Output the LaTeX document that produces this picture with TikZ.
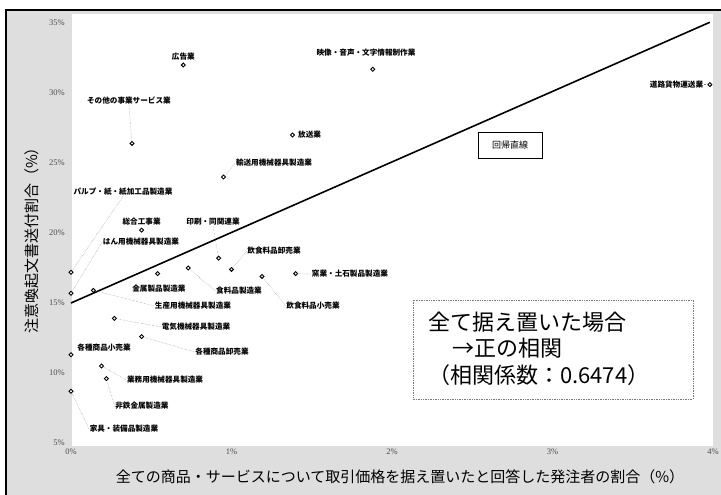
\documentclass[tikz,border=0pt]{standalone}
\usepackage{fontspec}
\setmainfont{Noto Sans CJK JP}
\newfontfamily\tickfont{Liberation Serif}
\usetikzlibrary{positioning}

\begin{document}
\begin{tikzpicture}[
    x=1pt,
    y=1pt,
    mydot/.style={
        circle,
        fill=white,
        draw,
        outer sep=0pt,
        inner sep=1.4pt,
        line width=0.9pt
      },
    lab/.style={font=\fontsize{7.6}{8}\selectfont\bfseries, inner sep=0.5pt},
    leader/.style={gray, densely dotted, line width=0.4pt},
    tick/.style={font=\tickfont\fontsize{8.5}{9}\selectfont, text=black!70, inner sep=0pt}]
  % Define colors
  \definecolor{backcolor}{RGB}{222,222,222}
  \definecolor{boxcolor}{RGB}{120,120,120}

  % Draw background
  \useasboundingbox (0,0) rectangle (721,495);
  \clip (0,0) rectangle (721,495);
  \fill[white] (0,0) rectangle (721,495);
  \draw[fill=backcolor, line width=1.2pt] (6,485) rectangle (740,-20);
  \fill[white] (72,481) rectangle (713,49);

  % Axis titles
  \node[font=\fontsize{15}{16}\selectfont] (xtitle) at (400,18)
    {全ての商品・サービスについて取引価格を据え置いたと回答した発注者の割合（\%）};
  \node[font=\fontsize{15}{16}\selectfont, rotate=90] (ytitle) at (32,258)
    {注意喚起文書送付割合（\%）};

  \begin{scope}[x=160.5pt, y=14pt, shift={(71pt,-18pt)}]
    % Label axes
    \draw (0,35) node[tick, left=6pt] (y35) {35\%};
    \draw (0,30) node[tick, left=6pt] (y30) {30\%};
    \draw (0,25) node[tick, left=6pt] (y25) {25\%};
    \draw (0,20) node[tick, left=6pt] (y20) {20\%};
    \draw (0,15) node[tick, left=6pt] (y15) {15\%};
    \draw (0,10) node[tick, left=6pt] (y10) {10\%};
    \draw (0,5) node[tick, left=6pt] (y5) {5\%};
    \draw (0,5) node[tick, below=6pt] (x0) {0\%};
    \draw (1,5) node[tick, below=6pt] (x1) {1\%};
    \draw (2,5) node[tick, below=6pt] (x2) {2\%};
    \draw (3,5) node[tick, below=6pt] (x3) {3\%};
    \draw (4,5) node[tick, below=6pt] (x4) {4\%};

    % Draw regression line
    \coordinate (r0) at (0,15);
    \coordinate (r1) at (3.98,35.05);
    \draw[line width=1.6pt] (r0) -- (r1);

    % Draw points
    \draw (0.70,32.0) node[mydot] (kokoku) {};
    \draw (1.88,31.7) node[mydot] (eizo) {};
    \draw (0.38,26.4) node[mydot] (sonota) {};
    \draw (1.38,27.0) node[mydot] (hoso) {};
    \draw (0.95,24.0) node[mydot] (yuso) {};
    \draw (0,17.2) node[mydot] (pulp) {};
    \draw (0,15.7) node[mydot] (hanyo) {};
    \draw (0.44,20.2) node[mydot] (sogo) {};
    \draw (0.92,18.2) node[mydot] (insatsu) {};
    \draw (1.00,17.4) node[mydot] (oroshi) {};
    \draw (1.40,17.1) node[mydot] (yogyo) {};
    \draw (0.54,17.1) node[mydot] (kinzoku) {};
    \draw (0.73,17.5) node[mydot] (shokuhin) {};
    \draw (0.14,15.9) node[mydot] (seisan) {};
    \draw (1.19,16.9) node[mydot] (kouri) {};
    \draw (0.27,13.9) node[mydot] (denki) {};
    \draw (0.44,12.6) node[mydot] (kakuoroshi) {};
    \draw (0,11.3) node[mydot] (kakukouri) {};
    \draw (0.19,10.5) node[mydot] (gyomu) {};
    \draw (0.22,9.6) node[mydot] (hitetsu) {};
    \draw (0,8.7) node[mydot] (kagu) {};
    \draw (3.98,30.6) node[mydot] (doro) {};

    % Label points
    \node[lab, above=2pt of kokoku] (kokoku-l) {広告業};
    \node[lab] (eizo-l) at (1.838,32.86) {映像・音声・文字情報制作業};
    \node[lab] (sonota-l) at (0.361,29.43) {その他の事業サービス業};
    \node[lab, right=3pt of hoso] (hoso-l) {放送業};
    \node[lab] (yuso-l) at (1.265,25.0) {輸送用機械器具製造業};
    \node[lab] (pulp-l) at (0.324,22.93) {パルプ・紙・紙加工品製造業};
    \node[lab] (hanyo-l) at (0.436,19.36) {はん用機械器具製造業};
    \node[lab, above=2pt of sogo] (sogo-l) {総合工事業};
    \node[lab] (insatsu-l) at (0.885,20.79) {印刷・同関連業};
    \node[lab] (oroshi-l) at (1.265,18.71) {飲食料品卸売業};
    \node[lab] (yogyo-l) at (1.738,17.07) {窯業・土石製品製造業};
    \node[lab] (kinzoku-l) at (0.548,16.0) {金属製品製造業};
    \node[lab] (shokuhin-l) at (1.047,15.86) {食料品製造業};
    \node[lab] (seisan-l) at (0.760,14.79) {生産用機械器具製造業};
    \node[lab] (kouri-l) at (1.508,14.79) {飲食料品小売業};
    \node[lab] (denki-l) at (0.779,13.29) {電気機械器具製造業};
    \node[lab] (kakuoroshi-l) at (0.941,11.5) {各種商品卸売業};
    \node[lab] (kakukouri-l) at (0.206,11.79) {各種商品小売業};
    \node[lab] (gyomu-l) at (0.586,9.5) {業務用機械器具製造業};
    \node[lab] (hitetsu-l) at (0.442,7.64) {非鉄金属製造業};
    \node[lab] (kagu-l) at (0.330,6.0) {家具・装備品製造業};
    \node[lab, left=4pt of doro] (doro-l) {道路貨物運送業};

    % Draw leaders
    \draw[leader] (sonota-l.south) -- (sonota);
    \draw[leader] (yuso) -- (yuso-l.west);
    \draw[leader] (pulp-l.south) -- (pulp);
    \draw[leader] (hanyo-l.west) -- (hanyo);
    \draw[leader] (insatsu-l.south) -- (insatsu);
    \draw[leader] (oroshi) -- (oroshi-l.west);
    \draw[leader] (yogyo) -- (yogyo-l.west);
    \draw[leader] (shokuhin) -- (shokuhin-l.west);
    \draw[leader] (seisan) -- (seisan-l.west);
    \draw[leader] (kouri) -- (kouri-l.west);
    \draw[leader] (denki) -- (denki-l.west);
    \draw[leader] (kakuoroshi) -- (kakuoroshi-l.west);
    \draw[leader] (gyomu) -- (gyomu-l.west);
    \draw[leader] (hitetsu) -- (hitetsu-l.west);
    \draw[leader] (kagu) -- (kagu-l.west);
    \draw[leader] (doro-l.east) -- (doro);
  \end{scope}

  % Regression label
  \node[draw, line width=0.8pt, minimum width=64pt, minimum height=26pt,
    font=\fontsize{9}{10}\selectfont] (kaiki) at (510,350) {回帰直線};

  % Draw note box
  \draw[boxcolor, densely dotted, line width=0.7pt] (413,195) rectangle (693,96);
  \node[anchor=west, inner sep=0pt, font=\fontsize{22}{24}\selectfont] (note1) at (428,173) {全て据え置いた場合};
  \node[anchor=west, inner sep=0pt, font=\fontsize{22}{24}\selectfont] (note2) at (452,147) {→正の相関};
  \node[anchor=west, inner sep=0pt, font=\fontsize{22}{24}\selectfont] (note3) at (428,120) {（相関係数：0.6474）};
\end{tikzpicture}
\end{document}
